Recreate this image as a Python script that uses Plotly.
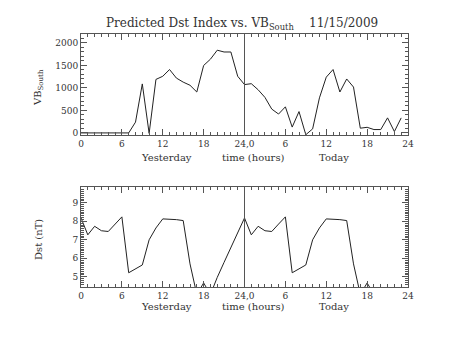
import plotly.graph_objects as go

hours = list(range(48))
vb_south = [0, 0, 0, 0, 0, 0, 0, 0, 240, 1090, -10, 1190, 1260, 1410, 1220, 1130,
            1060, 910, 1500, 1640, 1840, 1800, 1800, 1260,
            1075, 1095, 960, 790, 530, 420, 580, 130, 475, -40, 90, 780,
            1240, 1410, 910, 1200, 1020, 105, 125, 75, 75, 335, 30, 335]

dst_yesterday = [8.18, 7.27, 7.73, 7.49, 7.45, 7.85, 8.24, 5.22, 5.42, 5.64, 7.0, 7.64,
                 8.13, 8.13, 8.09, 8.04, 5.7, 4.05, 4.67, 4.05, 4.97, 5.78, 6.59, 7.4]
dst_today = [8.18, 7.27, 7.73, 7.49, 7.45, 7.85, 8.24, 5.22, 5.42, 5.64, 7.0, 7.64,
             8.13, 8.13, 8.09, 8.04, 5.7, 4.05, 4.67, 4.05, None, None, None, None]

x_tickvals = [0, 6, 12, 18, 24, 30, 36, 42, 48]
x_ticktext = ["0", "6", "12", "18", "24,0", "6", "12", "18", "24"]
vb_ticks = [0, 500, 1000, 1500, 2000]
dst_ticks = [5, 6, 7, 8, 9]

FONT = "DejaVu Serif"
TXT = "#333333"
AX = "#555555"

fig = go.Figure()
fig.add_trace(go.Scatter(x=hours, y=vb_south, mode="lines",
                         line=dict(color="#222222", width=1), xaxis="x", yaxis="y"))
fig.add_trace(go.Scatter(x=hours, y=dst_yesterday + dst_today, mode="lines",
                         line=dict(color="#222222", width=1), xaxis="x2", yaxis="y2",
                         connectgaps=False))

common_x = dict(range=[0, 48], tickmode="array", tickvals=x_tickvals, ticktext=x_ticktext,
                ticks="inside", ticklen=6, tickcolor=AX, showline=True, linecolor=AX,
                linewidth=1, mirror="allticks", showgrid=False, zeroline=False,
                tickfont=dict(family=FONT, size=9, color=TXT), ticklabelstandoff=0,
                minor=dict(dtick=1, ticklen=3, ticks="inside", tickcolor=AX, showgrid=False))
common_y = dict(ticks="inside", ticklen=6, tickcolor=AX, showline=True, linecolor=AX,
                linewidth=1, mirror="allticks", showgrid=False, zeroline=False,
                tickfont=dict(family=FONT, size=9, color=TXT))

fig.update_layout(
    width=453, height=340,
    margin=dict(l=81, r=45, t=34, b=53),
    paper_bgcolor="white", plot_bgcolor="white",
    showlegend=False,
    xaxis=dict(domain=[0, 1], anchor="y", **common_x),
    yaxis=dict(domain=[0.601, 1], anchor="x", range=[-45, 2200], tickmode="array",
               tickvals=vb_ticks,
               minor=dict(dtick=100, ticklen=3, ticks="inside", tickcolor=AX, showgrid=False),
               **common_y),
    xaxis2=dict(domain=[0, 1], anchor="y2", **common_x),
    yaxis2=dict(domain=[0, 0.395], anchor="x2", range=[4.45, 9.85], tickmode="array",
                tickvals=dst_ticks,
                minor=dict(dtick=0.1, ticklen=3, ticks="inside", tickcolor=AX, showgrid=False),
                **common_y),
)

fig.add_shape(type="line", xref="x", yref="y domain", x0=24, x1=24, y0=0, y1=1,
              line=dict(color=AX, width=1))
fig.add_shape(type="line", xref="x2", yref="y2 domain", x0=24, x1=24, y0=0, y1=1,
              line=dict(color=AX, width=1))

def ann(text, x, y, **kw):
    fig.add_annotation(text=text, x=x, y=y, xref="paper", yref="paper", showarrow=False,
                       font=dict(family=FONT, size=kw.pop("size", 10), color=TXT), **kw)

ann("Predicted Dst Index vs. VB<sub>South</sub>    11/15/2009", 0.492, 1.04, size=12,
    xanchor="center", yanchor="middle")
for py in (157, 306):
    yy = (287 - py) / 253
    ann("Yesterday", (166 - 81) / 327, yy, xanchor="center", yanchor="middle")
    ann("time (hours)", (253 - 81) / 327, yy, xanchor="center", yanchor="middle")
    ann("Today", (334 - 81) / 327, yy, xanchor="center", yanchor="middle")
ann("VB<sub>South</sub>", (38 - 81) / 327, (287 - 88) / 253, textangle=-90,
    xanchor="center", yanchor="middle")
ann("Dst (nT)", (38 - 81) / 327, (287 - 240) / 253, textangle=-90,
    xanchor="center", yanchor="middle")

fig.write_html("out.html")
